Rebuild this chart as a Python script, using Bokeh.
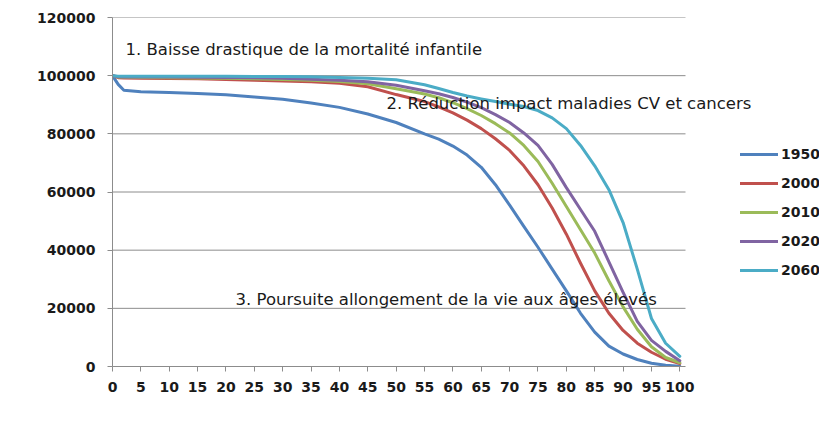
from bokeh.plotting import figure
from bokeh.models import Range1d, FixedTicker, BasicTickFormatter, Legend, LegendItem, Label
from bokeh.embed import file_html
from bokeh.resources import INLINE

ages = [0, 1, 2, 5, 10, 15, 20, 25, 30, 35, 40, 45, 50, 55, 57.5, 60, 62.5, 65, 67.5, 70, 72.5,
        75, 77.5, 80, 82.5, 85, 87.5, 90, 92.5, 95, 97.5, 100]

s1950 = [100000, 97000, 95000, 94500, 94200, 93900, 93400, 92700, 91900, 90600, 89100, 86800,
         83900, 80000, 78200, 75800, 72700, 68500, 62500, 55500, 48200, 41000, 33500, 26000,
         18300, 11800, 7000, 4300, 2400, 1100, 400, 100]
s2000 = [100000, 99300, 99200, 99100, 99000, 98900, 98700, 98400, 98200, 97900, 97400, 96200,
         93500, 91100, 89300, 87200, 84700, 81800, 78300, 74300, 69000, 62500, 54500, 45500,
         35500, 26000, 18300, 12400, 8000, 4900, 2500, 1000]
s2010 = [100000, 99500, 99450, 99400, 99300, 99200, 99100, 98900, 98700, 98400, 98000, 97200,
         95500, 93700, 92400, 90700, 88700, 86300, 83500, 80300, 76000, 70500, 63000, 55000,
         47000, 39000, 29500, 20500, 12800, 6800, 3100, 1300]
s2020 = [100000, 99600, 99580, 99550, 99500, 99450, 99400, 99300, 99150, 98800, 98400, 97900,
         96700, 94800, 93800, 92500, 90900, 89000, 86600, 83900, 80300, 76000, 69500, 61500,
         54000, 46500, 36000, 25500, 15500, 9000, 5200, 2000]
s2060 = [100000, 99800, 99800, 99800, 99800, 99800, 99780, 99750, 99700, 99600, 99400, 99100,
         98600, 96900, 95600, 94200, 93000, 92000, 91100, 90200, 89400, 88000, 85500, 81800,
         76000, 69000, 60800, 49500, 33500, 16500, 8000, 3500]

series_names = ["1950", "2000", "2010", "2020", "2060"]
series_values = [s1950, s2000, s2010, s2020, s2060]
colors = ["#4F81BD", "#C0504D", "#9BBB59", "#8064A2", "#4BACC6"]

x_ticks = list(range(0, 101, 5))
y_ticks = [0, 20000, 40000, 60000, 80000, 100000, 120000]
x_extent = 101  # the category axis covers 101 ages (0..100)

annotations = [
    (2.3, 109000, "1. Baisse drastique de la mortalité infantile"),
    (48.3, 90300, "2. Réduction impact maladies CV et cancers"),
    (21.7, 23200, "3. Poursuite allongement de la vie aux âges élevés"),
]

W, H = 819, 411
left, right_edge = 112, 685  # plot area in figure pixels
frame_w = W - left
x_end = x_extent * frame_w / (right_edge - left)

p = figure(width=W, height=H, output_backend="svg", toolbar_location=None,
           x_range=Range1d(0, x_end), y_range=Range1d(0, 120000),
           min_border_left=left, min_border_right=0, min_border_top=17, min_border_bottom=45,
           background_fill_color="white", border_fill_color="white")
p.outline_line_color = None

grid_col = "#8c8c8c"
p.xgrid.grid_line_color = None
p.ygrid.grid_line_color = None

# horizontal gridlines limited to the plot area (0..101)
p.segment(x0=[0] * (len(y_ticks) - 1), x1=[x_extent] * (len(y_ticks) - 1),
          y0=y_ticks[1:], y1=y_ticks[1:], line_color=grid_col, line_width=1)

p.xaxis.ticker = FixedTicker(ticks=x_ticks)
p.xaxis.bounds = (0, x_extent)
p.yaxis.ticker = FixedTicker(ticks=y_ticks)
p.yaxis.formatter = BasicTickFormatter(use_scientific=False)
for ax in (p.xaxis, p.yaxis):
    ax.axis_line_color = grid_col
    ax.major_tick_line_color = grid_col
    ax.minor_tick_line_color = None
    ax.major_tick_out = 5
    ax.major_tick_in = 0
    ax.major_label_text_font = "DejaVu Sans"
    ax.major_label_text_font_style = "bold"
    ax.major_label_text_font_size = "14px"
    ax.major_label_text_color = "#1a1a1a"
p.yaxis.major_label_standoff = 12
p.xaxis.major_label_standoff = 10

items = []
for name, vals, col in zip(series_names, series_values, colors):
    r = p.line(ages, vals, line_color=col, line_width=3, line_join="round", line_cap="round")
    items.append(LegendItem(label=name, renderers=[r]))

legend = Legend(items=items, location=(628, 86), orientation="vertical",
                glyph_width=38, glyph_height=20, label_height=20, spacing=9,
                label_standoff=3, padding=0, margin=0,
                border_line_color=None, background_fill_alpha=0,
                label_text_font="DejaVu Sans", label_text_font_style="bold",
                label_text_font_size="14px", label_text_color="#1a1a1a")
p.add_layout(legend, "center")

for ax_, ay_, txt in annotations:
    p.add_layout(Label(x=ax_, y=ay_, text=txt, text_baseline="middle", text_align="left",
                       text_font="DejaVu Sans", text_font_size="16.5px", text_color="#1a1a1a"))

open("out.html", "w").write(file_html(p, INLINE))
